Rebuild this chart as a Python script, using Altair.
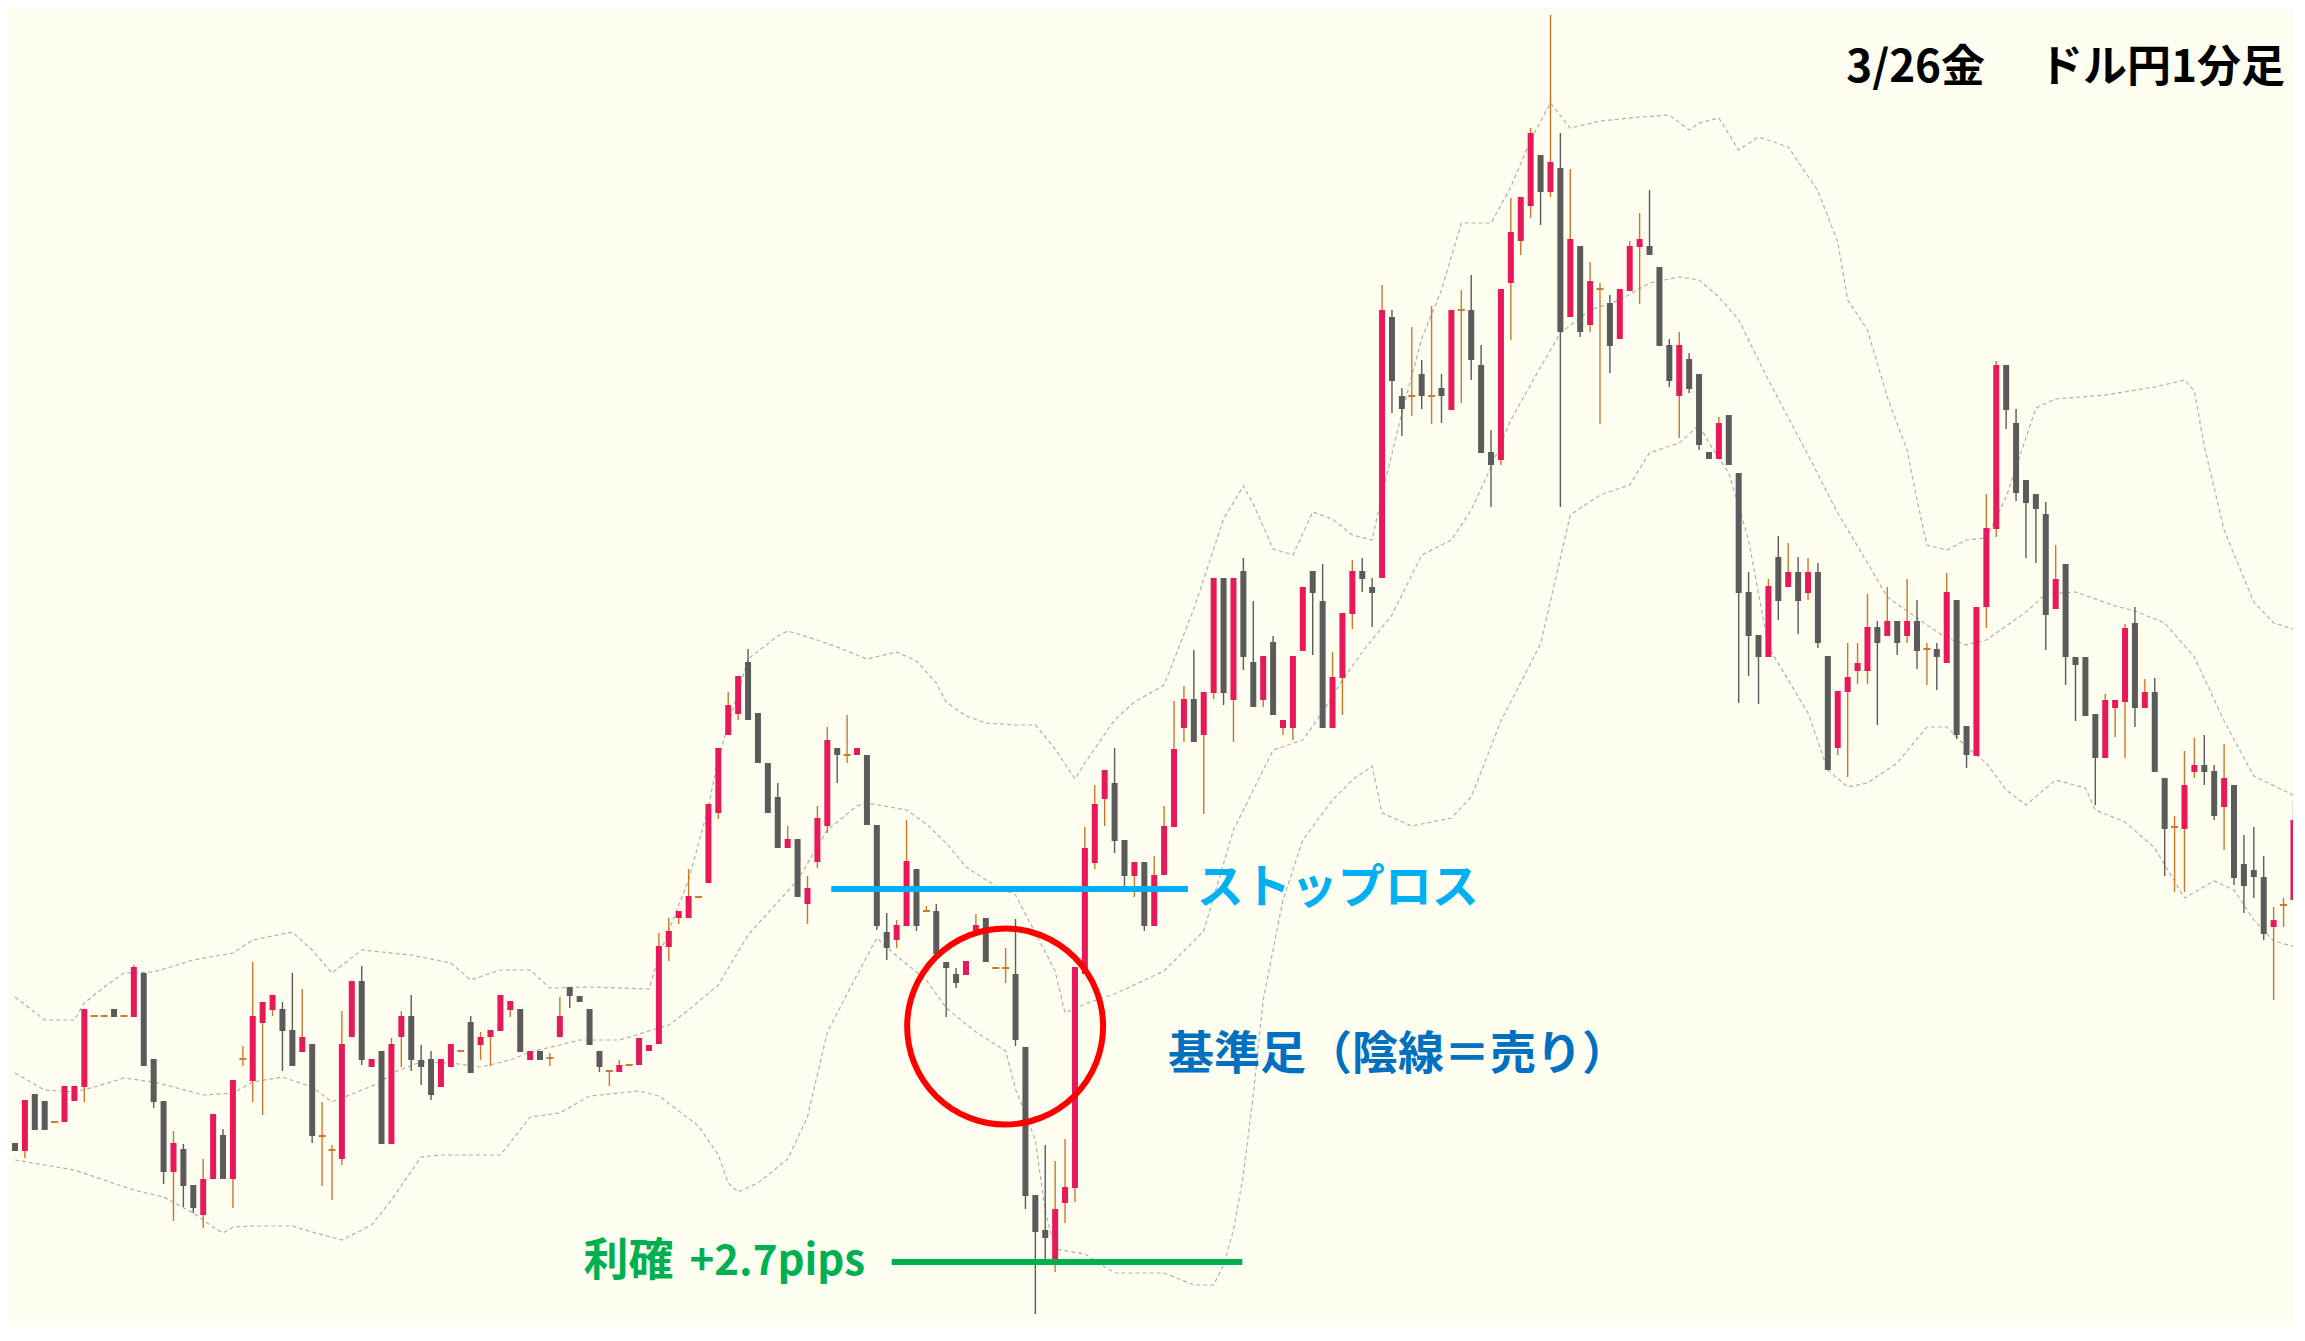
import altair as alt
import numpy as np
import pandas as pd

# USD/JPY 1-minute candles, price level in chart points (higher = more expensive)
opens = [257, 249, 306, 299, 278, 278, 299, 313, 384, 384, 391, 384, 383, 427, 341, 299, 228, 251, 215, 185,
         221, 265, 221, 341, 319, 377, 390, 391, 370, 348, 356, 264, 250, 241, 363, 419, 333, 349, 256, 363,
         384, 340, 341, 313, 333, 349, 378, 355, 363, 369, 390, 391, 340, 349, 342, 363, 413, 404, 391, 349,
         329, 328, 335, 335, 349, 356, 453, 482, 482, 503, 517, 587, 665, 686, 738, 687, 637, 603, 552, 561,
         496, 538, 574, 652, 645, 645, 645, 575, 468, 460, 474, 531, 489, 489, 438, 426, 425, 466, 482, 432,
         432, 426, 353, 205, 170, 140, 197, 212, 426, 537, 601, 617, 560, 524, 538, 474, 525, 573, 672, 701,
         665, 707, 822, 700, 829, 738, 700, 758, 672, 672, 749, 829, 799, 672, 722, 786, 829, 813, 822, 1083,
         1004, 1004, 1026, 1004, 1012, 990, 1090, 1090, 1035, 948, 940, 1117, 1159, 1194, 1245, 1208, 1232, 1083, 1154, 1075,
         1111, 1097, 1061, 1109, 1153, 1154, 1133, 1055, 1004, 1041, 1026, 948, 941, 985, 927, 808, 765, 743, 843, 813,
         828, 807, 828, 744, 652, 708, 729, 729, 773, 764, 779, 764, 779, 751, 751, 737, 800, 674, 644, 793,
         871, 1035, 977, 920, 906, 886, 791, 836, 743, 743, 686, 642, 692, 698, 777, 692, 708, 622, 573, 571,
         628, 635, 629, 593, 615, 536, 530, 523, 473, 495, 500]
highs = [257, 300, 306, 299, 278, 314, 314, 391, 384, 384, 391, 384, 435, 427, 341, 299, 269, 256, 215, 241,
         286, 271, 320, 354, 438, 398, 405, 398, 427, 411, 356, 298, 255, 389, 419, 434, 341, 349, 362, 389,
         405, 355, 349, 341, 356, 349, 384, 368, 370, 405, 399, 391, 349, 349, 347, 403, 413, 404, 391, 349,
         329, 340, 335, 362, 355, 467, 482, 489, 531, 503, 596, 652, 708, 724, 751, 687, 637, 617, 574, 561,
         524, 594, 673, 652, 685, 652, 645, 575, 487, 480, 580, 531, 494, 496, 438, 432, 439, 486, 482, 432,
         452, 481, 353, 205, 255, 239, 261, 433, 573, 615, 630, 652, 560, 538, 538, 544, 594, 699, 714, 750,
         708, 822, 822, 822, 842, 799, 744, 764, 680, 744, 813, 829, 836, 748, 787, 840, 842, 822, 1115, 1090,
         1012, 1073, 1040, 1094, 1026, 1090, 1110, 1125, 1055, 970, 1111, 1202, 1203, 1272, 1245, 1385, 1267, 1231, 1154, 1138,
         1117, 1105, 1111, 1159, 1187, 1210, 1133, 1061, 1068, 1047, 1026, 948, 983, 985, 927, 828, 765, 821, 864, 857,
         843, 842, 837, 744, 709, 757, 757, 806, 779, 813, 779, 821, 800, 757, 757, 827, 800, 674, 793, 906,
         1039, 1035, 991, 920, 906, 898, 855, 836, 743, 743, 686, 706, 700, 776, 793, 721, 722, 622, 584, 649,
         662, 665, 635, 656, 615, 565, 573, 544, 493, 502, 599]
lows = [249, 242, 270, 270, 278, 278, 299, 298, 384, 384, 383, 384, 383, 334, 292, 216, 179, 193, 187, 172,
        221, 221, 192, 334, 298, 285, 384, 329, 334, 348, 257, 214, 200, 235, 363, 335, 333, 256, 256, 333,
        329, 315, 300, 313, 333, 349, 327, 340, 334, 369, 383, 348, 340, 340, 334, 363, 392, 398, 355, 328,
        314, 328, 335, 335, 349, 356, 439, 476, 482, 503, 517, 581, 665, 680, 680, 637, 587, 552, 552, 503,
        476, 532, 567, 617, 637, 645, 575, 470, 440, 452, 474, 469, 489, 446, 383, 412, 425, 466, 438, 432,
        417, 354, 191, 86, 136, 128, 177, 198, 426, 531, 574, 547, 513, 503, 469, 474, 525, 573, 658, 658,
        586, 701, 695, 658, 730, 693, 693, 685, 665, 660, 749, 745, 672, 672, 685, 771, 808, 773, 822, 987,
        964, 984, 991, 976, 977, 990, 997, 1020, 947, 893, 935, 1060, 1145, 1182, 1175, 1203, 893, 1083, 1063, 1068,
        976, 1027, 1061, 1109, 1096, 1145, 1054, 1013, 962, 1007, 950, 941, 941, 935, 697, 724, 696, 743, 780, 813,
        766, 800, 752, 630, 645, 623, 716, 716, 675, 764, 745, 757, 731, 715, 710, 737, 661, 632, 644, 772,
        863, 971, 899, 842, 837, 750, 791, 715, 679, 684, 595, 642, 663, 642, 673, 692, 628, 524, 508, 508,
        622, 615, 580, 550, 515, 487, 502, 460, 400, 473, 500]
closes = [249, 300, 270, 270, 278, 314, 314, 391, 384, 384, 383, 384, 433, 334, 298, 228, 257, 214, 192, 221,
          286, 221, 320, 341, 384, 398, 405, 369, 334, 363, 264, 264, 250, 356, 419, 340, 341, 256, 356, 384,
          340, 333, 305, 341, 356, 349, 327, 363, 370, 405, 399, 348, 349, 340, 342, 384, 404, 398, 355, 333,
          329, 335, 335, 362, 355, 454, 469, 489, 504, 503, 596, 652, 695, 724, 680, 637, 587, 552, 561, 503,
          512, 582, 660, 645, 645, 652, 575, 474, 452, 475, 539, 474, 489, 446, 432, 417, 439, 475, 438, 432,
          432, 360, 204, 168, 162, 191, 213, 433, 552, 596, 630, 559, 524, 538, 474, 525, 574, 651, 701, 658,
          708, 822, 707, 822, 743, 693, 744, 685, 680, 744, 813, 807, 672, 723, 787, 829, 821, 807, 1090, 1019,
          991, 1004, 1004, 1004, 1004, 1090, 1090, 1040, 947, 935, 1111, 1168, 1203, 1267, 1208, 1238, 1068, 1161, 1068, 1119,
          1111, 1054, 1111, 1154, 1161, 1145, 1054, 1019, 1055, 1011, 955, 941, 977, 935, 807, 764, 743, 814, 799, 828,
          799, 828, 757, 630, 709, 723, 737, 773, 757, 779, 757, 779, 749, 751, 743, 808, 665, 645, 793, 872,
          1035, 990, 907, 897, 891, 785, 821, 743, 735, 684, 642, 700, 700, 772, 692, 708, 628, 571, 573, 615,
          635, 628, 584, 622, 522, 514, 523, 466, 480, 495, 580]

# Bollinger bands: (bar index, level)
upper_bar = [0, 3, 6, 7, 9, 11, 14, 18, 22, 24, 28, 30, 32, 35, 40, 44, 46, 49, 52, 54, 58, 64, 65, 68, 70, 71,
             74, 77, 78, 81, 83, 86, 89, 91, 93, 94, 96, 98, 101, 103, 105, 107, 108, 111, 113, 116, 119, 122,
             124, 125, 127, 129, 131, 133, 135, 137, 138, 140, 142, 144, 146, 149, 151, 153, 155, 157, 160, 164,
             167, 169, 170, 172, 174, 176, 179, 182, 184, 185, 187, 189, 191, 192, 193, 195, 197, 199, 201, 204,
             206, 211, 216, 219, 220, 221, 223, 226, 228, 231]
upper_val = [403, 380, 380, 397, 413, 427, 428, 440, 447, 460, 468, 450, 427, 450, 445, 437, 420, 430, 430, 412,
             413, 411, 444, 520, 593, 642, 741, 764, 769, 760, 753, 741, 748, 739, 717, 698, 684, 677, 675, 675,
             651, 621, 637, 680, 698, 715, 791, 881, 914, 896, 851, 845, 888, 881, 865, 860, 906, 987, 1061, 1110,
             1177, 1177, 1213, 1260, 1297, 1272, 1279, 1283, 1285, 1270, 1277, 1282, 1250, 1263, 1253, 1209, 1158,
             1100, 1070, 1003, 950, 900, 855, 850, 860, 862, 903, 992, 1001, 1005, 1013, 1020, 1009, 954, 870, 798,
             777, 768]
middle_bar = [0, 3, 6, 8, 11, 14, 16, 19, 22, 24, 27, 30, 32, 35, 37, 38, 41, 44, 47, 50, 52, 55, 57, 61, 66, 68,
              71, 74, 79, 82, 85, 86, 90, 92, 94, 96, 99, 101, 103, 105, 106, 108, 111, 116, 120, 123, 127, 130,
              132, 134, 136, 139, 142, 145, 147, 149, 151, 154, 156, 159, 162, 165, 168, 170, 172, 174, 177, 181,
              184, 187, 189, 193, 195, 197, 199, 203, 205, 208, 212, 214, 217, 220, 223, 226, 231]
middle_val = [327, 310, 308, 313, 322, 318, 313, 305, 307, 318, 323, 313, 298, 310, 318, 327, 338, 337, 333, 340,
              348, 355, 360, 360, 375, 390, 415, 465, 520, 570, 594, 597, 590, 576, 557, 533, 514, 505, 467, 429,
              387, 396, 406, 429, 469, 570, 650, 660, 688, 720, 748, 785, 845, 860, 890, 933, 980, 1033, 1067,
              1090, 1100, 1117, 1123, 1120, 1103, 1080, 1020, 945, 887, 837, 803, 775, 762, 755, 760, 788, 806,
              808, 794, 789, 777, 743, 679, 624, 600]
lower_bar = [0, 3, 6, 9, 12, 15, 18, 20, 21, 22, 24, 28, 30, 33, 36, 38, 41, 43, 49, 52, 55, 58, 63, 65, 69, 71,
             72, 73, 75, 78, 80, 82, 85, 87, 89, 92, 94, 97, 100, 101, 103, 104, 105, 108, 111, 116, 119, 121, 122,
             123, 124, 125, 126, 128, 130, 133, 135, 137, 138, 141, 145, 147, 150, 154, 157, 160, 163, 165, 167,
             168, 170, 171, 173, 175, 177, 181, 183, 185, 187, 190, 193, 195, 197, 199, 201, 203, 206, 209, 210,
             213, 216, 219, 222, 224, 226, 228, 231]
lower_val = [240, 235, 230, 220, 210, 203, 187, 173, 167, 173, 174, 174, 168, 160, 175, 200, 243, 245, 245, 283,
             287, 304, 309, 304, 274, 245, 217, 208, 217, 241, 283, 368, 425, 462, 444, 420, 392, 368, 349, 311,
             260, 189, 151, 146, 127, 127, 115, 115, 135, 170, 225, 305, 400, 500, 560, 600, 620, 634, 587, 574,
             582, 603, 679, 756, 885, 905, 915, 947, 954, 957, 975, 957, 927, 860, 753, 687, 630, 613, 617, 637,
             673, 673, 653, 637, 610, 595, 620, 612, 590, 578, 552, 502, 519, 510, 480, 459, 451]

BG = "#fdfdf0"
BULL = "#e6195a"
BEAR = "#5b5b5b"
BULL_WICK = "#c8782a"
DOJI = "#cc7a30"

df = pd.DataFrame({"bar": range(len(opens)), "open": opens, "high": highs,
                   "low": lows, "close": closes})
df["dir"] = np.where(df["close"] > df["open"], "up",
                     np.where(df["close"] < df["open"], "down", "flat"))
df["body_lo"] = df[["open", "close"]].min(axis=1)
df["body_hi"] = df[["open", "close"]].max(axis=1)

bands = pd.concat([
    pd.DataFrame({"bar": upper_bar, "level": upper_val, "band": "upper"}),
    pd.DataFrame({"bar": middle_bar, "level": middle_val, "band": "middle"}),
    pd.DataFrame({"bar": lower_bar, "level": lower_val, "band": "lower"}),
])

xs = alt.Scale(domain=[-0.2, 229.45], nice=False, zero=False)
ys = alt.Scale(domain=[74, 1392], nice=False, zero=False)


def X(field):
    return alt.X(field, type="quantitative", scale=xs, axis=None)


def Y(field):
    return alt.Y(field, type="quantitative", scale=ys, axis=None)


base = alt.Chart(df)

band_layer = alt.Chart(bands).mark_line(
    strokeDash=[4, 3], strokeWidth=1.2, color="#b0b0b0"
).encode(x=X("bar"), y=Y("level"), detail="band:N")

wick_up = base.transform_filter("datum.dir == 'up'").mark_rule(
    strokeWidth=1.4, color=BULL_WICK).encode(x=X("bar"), y=Y("low"), y2="high")
wick_down = base.transform_filter("datum.dir == 'down'").mark_rule(
    strokeWidth=1.4, color=BEAR).encode(x=X("bar"), y=Y("low"), y2="high")
wick_flat = base.transform_filter("datum.dir == 'flat'").mark_rule(
    strokeWidth=1.4, color=DOJI).encode(x=X("bar"), y=Y("low"), y2="high")

body_up = base.transform_filter("datum.dir == 'up'").mark_bar(
    size=6, color=BULL).encode(x=X("bar"), y=Y("body_lo"), y2="body_hi")
body_down = base.transform_filter("datum.dir == 'down'").mark_bar(
    size=6, color=BEAR).encode(x=X("bar"), y=Y("body_lo"), y2="body_hi")

dojis = base.transform_filter("datum.dir == 'flat'").mark_tick(
    orient="horizontal", size=7, thickness=2, color=DOJI, opacity=1
).encode(x=X("bar"), y=Y("open"))

# annotations (anchored in data space)
sl = pd.DataFrame({"x": [82.4], "x2": [118.4], "y": [511]})
tp = pd.DataFrame({"x": [88.5], "x2": [123.9], "y": [138]})
sl_rule = alt.Chart(sl).mark_rule(strokeWidth=6, color="#00b0f0").encode(
    x=X("x"), x2="x2", y=Y("y"))
tp_rule = alt.Chart(tp).mark_rule(strokeWidth=6, color="#00b050").encode(
    x=X("x"), x2="x2", y=Y("y"))

circ = pd.DataFrame({"x": [99.95], "y": [373.5]})
circle = alt.Chart(circ).mark_point(
    shape="circle", filled=False, size=38400, strokeWidth=6, color="#ff0000", opacity=1
).encode(x=X("x"), y=Y("y"))

FONT = "Noto Sans CJK JP"


def label(text, x, y, color, size, align):
    d = pd.DataFrame({"x": [x], "y": [y], "t": [text]})
    return alt.Chart(d).mark_text(
        align=align, baseline="middle", font=FONT, fontWeight="bold",
        fontSize=size, color=color
    ).encode(x=X("x"), y=Y("y"), text="t:N")


t_sl = label("ストップロス", 119.3, 511, "#00b0f0", 47, "left")
t_ref = label("基準足（陰線＝売り）", 116.4, 345, "#0070c0", 46, "left")
t_tp1 = label("利確", 57.4, 138, "#00b050", 45, "left")
t_tp2 = label("+2.7pips", 85.8, 138, "#00b050", 42, "right")
t_title = label("3/26金　 ドル円1分足", 229.15, 1331, "#000000", 44, "right")

chart = alt.layer(
    band_layer, wick_up, wick_down, wick_flat, body_up, body_down, dojis,
    sl_rule, tp_rule, circle, t_sl, t_ref, t_tp1, t_tp2, t_title
).properties(
    width=2285, height=1318, background=BG, padding=0,
    autosize=alt.AutoSizeParams(type="none")
).configure_view(stroke=None)

chart.save("out.html", embed_options={"renderer": "svg", "actions": False})
